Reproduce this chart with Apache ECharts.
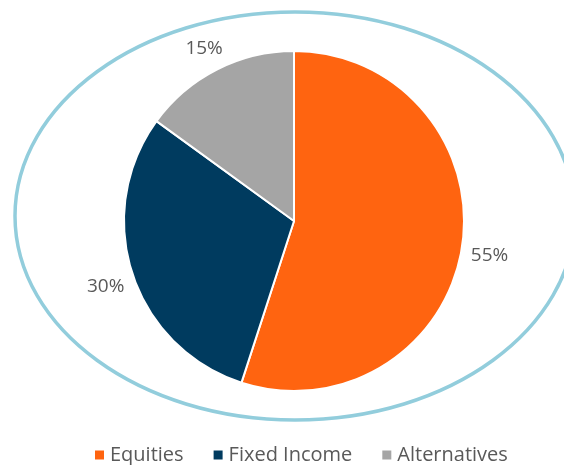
<!DOCTYPE html>
<html>
<head>
<meta charset="utf-8">
<script src="https://cdn.jsdelivr.net/npm/echarts@6/dist/echarts.min.js"></script>
<style>
  html, body { margin: 0; padding: 0; background: #fff; }
  #chart { width: 564px; height: 465px; }
</style>
</head>
<body>
<div id="chart"></div>
<script>
var categories = ['Equities', 'Fixed Income', 'Alternatives']
var values = [55, 30, 15]
var colors = ['#FF6410', '#003B5F', '#A5A5A5']

var myChart = echarts.init(document.getElementById('chart'))

var pieData = categories.map(function (name, i) {
  return { name: name, value: values[i], itemStyle: { color: colors[i] } }
})

var option = {
  animation: false,
  textStyle: { fontFamily: 'Open Sans' },
  legend: {
    top: 440,
    left: 88,
    icon: 'rect',
    itemWidth: 11,
    itemHeight: 11,
    itemGap: 28,
    textStyle: { color: '#595959', fontSize: 20, fontFamily: 'Open Sans' },
    data: categories
  },
  graphic: [
    {
      type: 'ellipse',
      shape: { cx: 295, cy: 216, rx: 280, ry: 204 },
      style: { fill: 'none', stroke: '#92CDDC', lineWidth: 3.5 },
      silent: true,
      z: 0
    }
  ],
  series: [
    {
      // the pie itself
      type: 'pie',
      center: [294, 221],
      radius: 170,
      startAngle: 90,
      clockwise: true,
      label: { show: false },
      labelLine: { show: false },
      itemStyle: { borderColor: '#fff', borderWidth: 2 },
      emphasis: { disabled: true },
      data: pieData
    },
    {
      // invisible ring just to place the % labels around the pie
      type: 'pie',
      center: [294, 225],
      radius: [190, 200],
      startAngle: 90,
      clockwise: true,
      silent: true,
      legendHoverLink: false,
      itemStyle: { color: 'rgba(0,0,0,0)' },
      label: {
        show: true,
        position: 'inside',
        formatter: '{d}%',
        color: '#595959',
        fontSize: 19,
        fontFamily: 'Open Sans'
      },
      labelLine: { show: false },
      emphasis: { disabled: true },
      data: categories.map(function (name, i) {
        return { name: name, value: values[i] }
      })
    }
  ]
}

myChart.setOption(option)
</script>
</body>
</html>
